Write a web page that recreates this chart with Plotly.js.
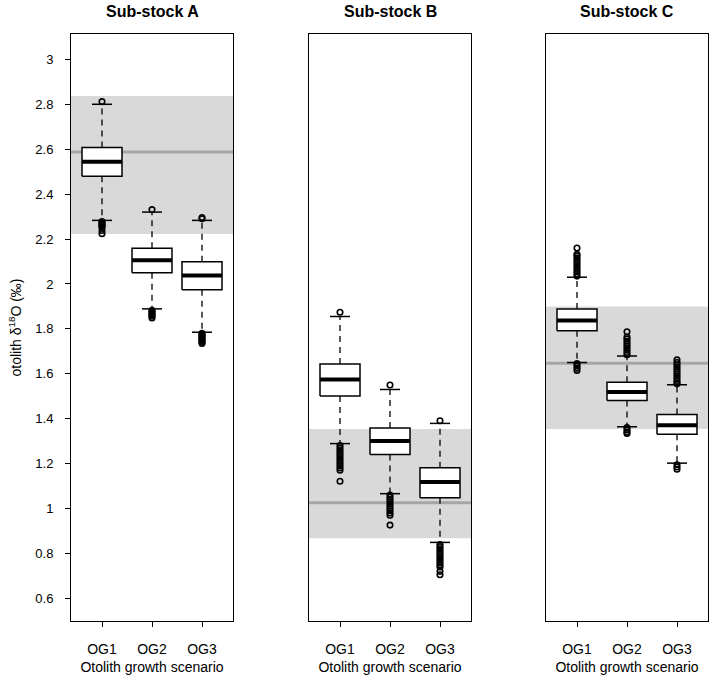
<!DOCTYPE html>
<html>
<head>
<meta charset="utf-8">
<script src="https://cdn.plot.ly/plotly-3.0.1.min.js"></script>
<style>
  html, body { margin: 0; padding: 0; background: #ffffff; }
  #chart { width: 713px; height: 682px; }
</style>
</head>
<body>
<div id="chart"></div>
<script>

// scenarios on the x axis
var scenarios = ['OG1', 'OG2', 'OG3'];
var panel_names = ['Sub-stock A', 'Sub-stock B', 'Sub-stock C'];

// box statistics, one array per panel (OG1, OG2, OG3)
var lower_A = [2.283, 1.889, 1.785];
var q1_A = [2.479, 2.050, 1.974];
var median_A = [2.544, 2.106, 2.038];
var q3_A = [2.608, 2.159, 2.099];
var upper_A = [2.800, 2.320, 2.283];

var lower_B = [1.289, 1.066, 0.849];
var q1_B = [1.501, 1.240, 1.048];
var median_B = [1.574, 1.301, 1.118];
var q3_B = [1.644, 1.358, 1.182];
var upper_B = [1.855, 1.530, 1.379];

var lower_C = [1.650, 1.364, 1.202];
var q1_C = [1.791, 1.481, 1.331];
var median_C = [1.837, 1.519, 1.371];
var q3_C = [1.888, 1.562, 1.419];
var upper_C = [2.030, 1.679, 1.551];

// outliers
var out_A = [
	[2.812, 2.278, 2.272, 2.267, 2.262, 2.257, 2.252, 2.238, 2.224],
	[2.331, 1.883, 1.877, 1.871, 1.866, 1.861, 1.856, 1.848],
	[2.296, 2.290, 1.780, 1.775, 1.770, 1.765, 1.760, 1.755, 1.750, 1.745, 1.740, 1.735]
];
var out_B = [
	[1.874, 1.280, 1.270, 1.260, 1.250, 1.240, 1.230, 1.220, 1.210, 1.200, 1.190, 1.180, 1.170, 1.121],
	[1.550, 1.060, 1.050, 1.040, 1.030, 1.020, 1.010, 1.000, 0.990, 0.980, 0.970, 0.926],
	[1.391, 0.840, 0.830, 0.820, 0.810, 0.800, 0.790, 0.780, 0.770, 0.760, 0.750, 0.740, 0.720, 0.705]
];
var out_C = [
	[2.160, 2.132, 2.125, 2.115, 2.105, 2.095, 2.085, 2.075, 2.065, 2.055, 2.045, 2.035, 1.645, 1.635, 1.625, 1.615],
	[1.787, 1.763, 1.755, 1.745, 1.735, 1.725, 1.715, 1.705, 1.695, 1.685, 1.360, 1.350, 1.340, 1.334],
	[1.662, 1.650, 1.640, 1.630, 1.620, 1.610, 1.600, 1.590, 1.580, 1.570, 1.560, 1.555, 1.195, 1.185, 1.175]
];

// reference value (dark grey line) and its range (grey band)
var ref_value = [2.588, 1.026, 1.647];
var ref_low = [2.222, 0.867, 1.354];
var ref_high = [2.837, 1.354, 1.900];

// y ticks
var y_tickvals = [0.6, 0.8, 1, 1.2, 1.4, 1.6, 1.8, 2, 2.2, 2.4, 2.6, 2.8, 3];
var y_ticktext = ['0.6', '0.8', '1', '1.2', '1.4', '1.6', '1.8', '2', '2.2', '2.4', '2.6', '2.8', '3'];

var font_family = 'Arial, "Liberation Sans", sans-serif';
var half_box = 0.4;
var half_staple = 0.2;

var panels = [
	{lower: lower_A, q1: q1_A, med: median_A, q3: q3_A, upper: upper_A, out: out_A},
	{lower: lower_B, q1: q1_B, med: median_B, q3: q3_B, upper: upper_B, out: out_B},
	{lower: lower_C, q1: q1_C, med: median_C, q3: q3_C, upper: upper_C, out: out_C}
];

var data = [];
var shapes = [];
var annotations = [];

for (var p = 0; p < panels.length; p++) {
	var P = panels[p];
	var xa = p == 0 ? 'x' : 'x' + (p + 1);
	var ya = p == 0 ? 'y' : 'y' + (p + 1);

	// grey band + reference line
	shapes.push({
		type: 'rect', xref: xa + ' domain', yref: ya,
		x0: 0, x1: 1, y0: ref_low[p], y1: ref_high[p],
		fillcolor: '#d9d9d9', line: {width: 0}, layer: 'below'
	});
	shapes.push({
		type: 'line', xref: xa + ' domain', yref: ya,
		x0: 0, x1: 1, y0: ref_value[p], y1: ref_value[p],
		line: {color: '#a6a6a6', width: 3}, layer: 'below'
	});

	var wx = [], wy = [], sx = [], sy = [], ox = [], oy = [];
	for (var i = 0; i < scenarios.length; i++) {
		var xi = i + 1;
		wx.push(xi, xi, null, xi, xi, null);
		wy.push(P.q3[i], P.upper[i], null, P.q1[i], P.lower[i], null);
		sx.push(xi - half_staple, xi + half_staple, null, xi - half_staple, xi + half_staple, null);
		sy.push(P.upper[i], P.upper[i], null, P.lower[i], P.lower[i], null);
		for (var k = 0; k < P.out[i].length; k++) {
			ox.push(xi);
			oy.push(P.out[i][k]);
		}
	}

	// dashed whiskers
	data.push({
		x: wx, y: wy, xaxis: xa, yaxis: ya, type: 'scatter', mode: 'lines',
		line: {color: '#000000', width: 1.3, dash: '6px,5px'},
		hoverinfo: 'skip', showlegend: false
	});
	// staples
	data.push({
		x: sx, y: sy, xaxis: xa, yaxis: ya, type: 'scatter', mode: 'lines',
		line: {color: '#000000', width: 1.5},
		hoverinfo: 'skip', showlegend: false
	});
	// boxes
	for (var i = 0; i < scenarios.length; i++) {
		var xi = i + 1;
		data.push({
			x: [xi - half_box, xi + half_box, xi + half_box, xi - half_box, xi - half_box],
			y: [P.q1[i], P.q1[i], P.q3[i], P.q3[i], P.q1[i]],
			xaxis: xa, yaxis: ya, type: 'scatter', mode: 'lines',
			fill: 'toself', fillcolor: '#ffffff',
			line: {color: '#000000', width: 1.5},
			hoverinfo: 'skip', showlegend: false
		});
		data.push({
			x: [xi - half_box, xi + half_box],
			y: [P.med[i], P.med[i]],
			xaxis: xa, yaxis: ya, type: 'scatter', mode: 'lines',
			line: {color: '#000000', width: 4},
			hoverinfo: 'skip', showlegend: false
		});
	}
	// outliers
	data.push({
		x: ox, y: oy, xaxis: xa, yaxis: ya, type: 'scatter', mode: 'markers',
		marker: {symbol: 'circle-open', size: 5.5, color: '#000000', line: {width: 1.6, color: '#000000'}},
		hoverinfo: 'y', showlegend: false
	});

	annotations.push({
		text: '<b>' + panel_names[p] + '</b>',
		xref: xa + ' domain', yref: 'paper', x: 0.5, y: 1,
		xanchor: 'center', yanchor: 'middle', yshift: 23, showarrow: false,
		font: {family: font_family, size: 16, color: '#000000'}
	});
}

var x_domains = [[71 / 713, 233 / 713], [309 / 713, 471 / 713], [546 / 713, 708 / 713]];
var y_range = [0.499, 3.113];

function make_xaxis(p) {
	return {
		domain: x_domains[p],
		anchor: p == 0 ? 'y' : 'y' + (p + 1),
		range: [0.38, 3.62],
		tickvals: [1, 2, 3],
		ticktext: scenarios,
		ticks: 'outside', ticklen: 5, tickwidth: 1, tickcolor: '#000000',
		ticklabelstandoff: 10,
		showline: true, mirror: true, linecolor: '#000000', linewidth: 1,
		showgrid: false, zeroline: false, fixedrange: true,
		tickfont: {family: font_family, size: 14, color: '#000000'},
		title: {text: 'Otolith growth scenario', standoff: 6,
			font: {family: font_family, size: 14, color: '#000000'}}
	};
}

function make_yaxis(p) {
	var ax = {
		domain: [0, 1],
		anchor: p == 0 ? 'x' : 'x' + (p + 1),
		range: y_range,
		showline: true, mirror: true, linecolor: '#000000', linewidth: 1,
		showgrid: false, zeroline: false, fixedrange: true
	};
	if (p == 0) {
		ax.tickvals = y_tickvals;
		ax.ticktext = y_ticktext;
		ax.ticks = 'outside';
		ax.ticklen = 5;
		ax.tickcolor = '#000000';
		ax.ticklabelstandoff = 9;
		ax.tickfont = {family: font_family, size: 13, color: '#000000'};
		ax.title = {text: 'otolith \u03b4<sup>18</sup>O (\u2030)', standoff: 10,
			font: {family: font_family, size: 14, color: '#000000'}};
	} else {
		ax.showticklabels = false;
		ax.ticks = '';
	}
	return ax;
}

var layout = {
	width: 713,
	height: 682,
	margin: {l: 0, r: 0, t: 34, b: 61, pad: 0},
	paper_bgcolor: '#ffffff',
	plot_bgcolor: '#ffffff',
	showlegend: false,
	font: {family: font_family, size: 13, color: '#000000'},
	xaxis: make_xaxis(0), xaxis2: make_xaxis(1), xaxis3: make_xaxis(2),
	yaxis: make_yaxis(0), yaxis2: make_yaxis(1), yaxis3: make_yaxis(2),
	shapes: shapes,
	annotations: annotations
};

Plotly.newPlot('chart', data, layout, {displayModeBar: false, staticPlot: true});

</script>
</body>
</html>
